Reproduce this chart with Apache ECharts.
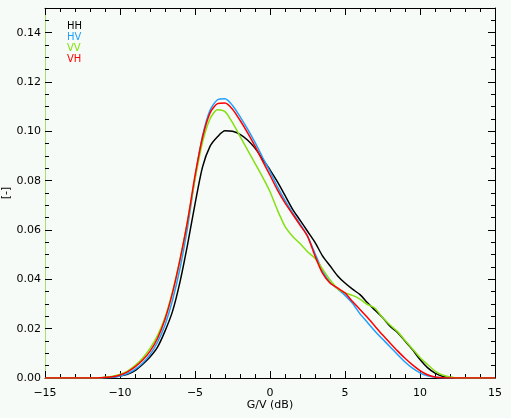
<!DOCTYPE html>
<html>
<head>
<meta charset="utf-8">
<script src="https://cdn.jsdelivr.net/npm/echarts@6/dist/echarts.min.js"></script>
<style>
  html, body { margin: 0; padding: 0; background: #f7fbf7; }
  #chart { width: 511px; height: 418px; }
</style>
</head>
<body>
<div id="chart"></div>
<script>
// G/V (dB) sample positions
const xValues = [-15, -14.5, -14, -13.5, -13, -12.5, -12, -11.5, -11, -10.5, -10, -9.5, -9, -8.5, -8, -7.5,
  -7, -6.5, -6, -5.5, -5, -4.5, -4, -3.5, -3, -2.5, -2, -1.5, -1, -0.5, 0, 0.5, 1, 1.5, 2, 2.5, 3, 3.5,
  4, 4.5, 5, 5.5, 6, 6.5, 7, 7.5, 8, 8.5, 9, 9.5, 10, 10.5, 11, 11.5, 12, 12.5, 13, 13.5, 14, 14.5, 15];

const hhValues = [0, 0, 0, 0, 0, 0, 0, 0,
  0.0002, 0.0004, 0.0008, 0.0015, 0.003, 0.0055, 0.0085, 0.0125, 0.019, 0.027, 0.039, 0.054, 0.0705, 0.0855,
  0.0939, 0.0978, 0.1002, 0.1, 0.0988, 0.0965, 0.0932, 0.0888, 0.0844, 0.0795, 0.074, 0.0685, 0.064, 0.0595,
  0.055, 0.0495, 0.0455, 0.0415, 0.0385, 0.036, 0.0338, 0.0305, 0.0275, 0.0245, 0.021, 0.0185, 0.015, 0.0115,
  0.0075, 0.0042, 0.002, 0.0007, 0.0002,
  0, 0, 0, 0, 0, 0];

const hvValues = [0, 0, 0, 0, 0, 0, 0, 0,
  0.0001, 0.0003, 0.0008, 0.0018, 0.0035, 0.006, 0.0095, 0.0145, 0.0215, 0.0315, 0.0445, 0.061, 0.081, 0.098,
  0.1085, 0.1128, 0.1132, 0.1105, 0.106, 0.101, 0.0955, 0.0895, 0.0837, 0.0775, 0.072, 0.067, 0.0625, 0.0575,
  0.0505, 0.0435, 0.0388, 0.0362, 0.0335, 0.0303, 0.026, 0.0225, 0.019, 0.0158, 0.0127, 0.0095, 0.0065, 0.004,
  0.0021, 0.0009, 0.0003, 0.0001, 0,
  0, 0, 0, 0, 0, 0];

const vvValues = [0, 0, 0, 0, 0, 0, 0, 0,
  0.0003, 0.0007, 0.0014, 0.0028, 0.005, 0.008, 0.012, 0.0172, 0.0245, 0.035, 0.048, 0.0635, 0.0805, 0.0955,
  0.105, 0.1088, 0.108, 0.1035, 0.098, 0.0925, 0.087, 0.0815, 0.0755, 0.068, 0.0615, 0.0575, 0.0545, 0.0512,
  0.0485, 0.0442, 0.0398, 0.0362, 0.0345, 0.0335, 0.032, 0.0298, 0.0283, 0.0245, 0.0215, 0.0188, 0.0152, 0.0118,
  0.0083, 0.0055, 0.0028, 0.0012, 0.0004,
  0, 0, 0, 0, 0, 0];

const vhValues = [0, 0, 0, 0, 0, 0, 0, 0,
  0.0002, 0.0005, 0.0012, 0.0025, 0.0045, 0.0072, 0.0108, 0.016, 0.0238, 0.0345, 0.048, 0.0635, 0.082, 0.0975,
  0.1074, 0.1112, 0.1115, 0.109, 0.1045, 0.0995, 0.094, 0.088, 0.0822, 0.0762, 0.071, 0.0665, 0.062, 0.0575,
  0.0495, 0.0425, 0.0385, 0.0365, 0.0345, 0.031, 0.0278, 0.0245, 0.021, 0.0175, 0.0142, 0.011, 0.008, 0.0053,
  0.003, 0.0013, 0.0004, 0.0001, 0,
  0, 0, 0, 0, 0, 0];

const seriesNames = ['HH', 'HV', 'VV', 'VH'];
const seriesColors = ['#000000', '#1ea0ff', '#84e010', '#ff0000'];
const seriesValues = [hhValues, hvValues, vvValues, vhValues];

const font = 'DejaVu Sans';
const labelStyle = { fontFamily: font, fontSize: 11, color: '#000' };
const tickStyle = { color: '#000', width: 1 };

const chart = echarts.init(document.getElementById('chart'));

// 坐标轴: 主刻度 + 次刻度, 四边都有
function xAxisDef(position, withLabels) {
  return {
    type: 'value',
    position,
    min: -15,
    max: 15,
    interval: 5,
    axisLine: { show: true, onZero: false, lineStyle: { color: '#000', width: 1 } },
    axisTick: { show: true, inside: true, length: 7, lineStyle: tickStyle },
    minorTick: { show: true, splitNumber: 5, length: 4, lineStyle: tickStyle },
    axisLabel: {
      show: withLabels,
      margin: 10,
      ...labelStyle,
      formatter: (v) => String(v).replace('-', '\u2212'),
    },
    splitLine: { show: false },
    name: withLabels ? 'G/V (dB)' : '',
    nameLocation: 'middle',
    nameGap: 22,
    nameMoveOverlap: false,
    nameTextStyle: labelStyle,
  };
}

function yAxisDef(position, interval, tickLen, withLabels, lineColor) {
  return {
    type: 'value',
    position,
    min: 0,
    max: 0.15,
    interval,
    axisLine: { show: !!lineColor, onZero: false, lineStyle: { color: lineColor || '#000', width: 1 } },
    axisTick: { show: true, inside: true, length: tickLen, lineStyle: tickStyle },
    axisLabel: {
      show: withLabels,
      margin: 4,
      showMaxLabel: false,
      ...labelStyle,
      formatter: (v) => v.toFixed(2),
    },
    splitLine: { show: false },
    name: withLabels ? '[-]' : '',
    nameLocation: 'middle',
    nameRotate: 90,
    nameGap: 33,
    nameMoveOverlap: false,
    nameTextStyle: labelStyle,
  };
}

chart.setOption({
  backgroundColor: '#f7fbf7',
  animation: false,
  grid: { left: 45, right: 16, top: 8, bottom: 40, outerBoundsMode: 'none', containLabel: false },
  legend: {
    orient: 'vertical',
    left: 57,
    top: 16,
    icon: 'none',
    itemWidth: 0,
    itemHeight: 11,
    itemGap: 0.4,
    selectedMode: false,
    textStyle: { fontFamily: font, fontSize: 10 },
    data: seriesNames.map((name, i) => ({ name, textStyle: { color: seriesColors[i] } })),
  },
  xAxis: [xAxisDef('bottom', true), xAxisDef('top', false)],
  yAxis: [
    yAxisDef('left', 0.02, 7, true, '#a8e070'),
    yAxisDef('left', 0.005, 4, false, null),
    yAxisDef('right', 0.02, 7, false, '#000'),
    yAxisDef('right', 0.005, 4, false, null),
  ],
  series: seriesNames.map((name, i) => ({
    name,
    type: 'line',
    xAxisIndex: 0,
    yAxisIndex: 0,
    showSymbol: false,
    symbol: 'none',
    smooth: 0.25,
    clip: true,
    color: seriesColors[i],
    lineStyle: { color: seriesColors[i], width: 1.5 },
    data: xValues.map((x, j) => [x, seriesValues[i][j]]),
  })),
});
</script>
</body>
</html>
